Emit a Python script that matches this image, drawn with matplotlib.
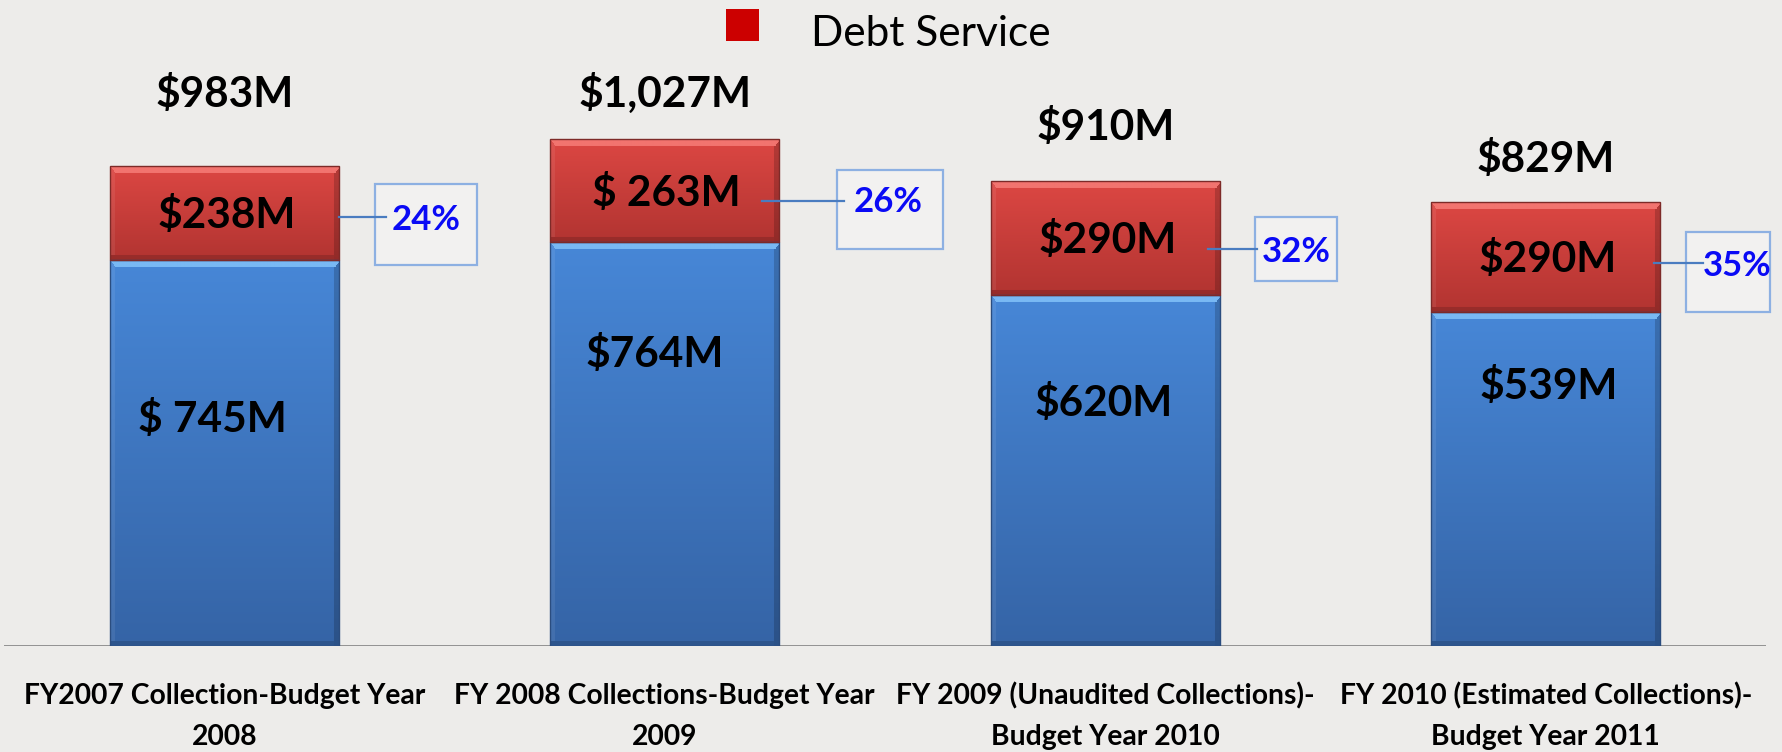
import numpy as np
import matplotlib
matplotlib.use("Agg")
import matplotlib.pyplot as plt
from matplotlib.patches import Rectangle
from matplotlib.transforms import IdentityTransform
from matplotlib.colors import to_rgb

# ---------------- data ----------------
categories = [
    "FY2007 Collection-Budget Year\n2008",
    "FY 2008 Collections-Budget Year\n2009",
    "FY 2009 (Unaudited Collections)-\nBudget Year 2010",
    "FY 2010 (Estimated Collections)-\nBudget Year 2011",
]
# values as printed on the chart ($M)
other_values_m = [745, 764, 620, 539]
debt_values_m = [238, 263, 290, 290]
total_values_m = [983, 1027, 910, 829]
other_label_text = ["$ 745M", "$764M", "$620M", "$539M"]
debt_label_text = ["$238M", "$ 263M", "$290M", "$290M"]
# segment heights as they are drawn in the picture (chart units)
other_drawn = [772, 808, 702, 668]
debt_drawn = [188, 206, 228, 220]
legend_label = "Debt Service"

# ---------------- layout / style ----------------
W, H, DPI = 1783, 752, 100
FONT = ["Lato", "DejaVu Sans"]
BG = "#edecea"
RED = dict(top="#dc4743", bottom="#b23431", edge="#7d2a28", hi="#f2746f")
BLUE = dict(top="#4787d7", bottom="#3564a6", edge="#2b4d7f", hi="#79b9f4")
BAR_W = 0.52
total_gap_px = [59, 32, 41, 30]          # bar top -> total label baseline
other_depth_px = [172, 125, 121, 87]     # blue top -> blue label baseline
other_dx_px = [-12, -10, -2, 3]          # horizontal nudge of blue labels
pct_text_dx = [87, 109, 77, 77]          # from bar right edge
pct_text_dy = [17, 22, 24, 19]           # baseline below red centre
pct_box = [(36, 138, -29, 52), (58, 164, -21, 58), (35, 117, -21, 43), (26, 110, -25, 55)]
pct_line = [(0, 47, 4), (-17, 65, 10), (-12, 37, 11), (-6, 43, 6)]  # x0,x1 from bar edge, dy

fig = plt.figure(figsize=(W / DPI, H / DPI), dpi=DPI, facecolor=BG)
ax = fig.add_axes([4 / W, (H - 646) / H, 1762 / W, 646 / H])
ax.set_facecolor("none")
n = len(categories)
x = np.arange(n)
ax.set_xlim(-0.5, n - 0.5)
ax.set_ylim(0, 1292)
for s in ax.spines.values():
    s.set_visible(False)
ax.set_yticks([])
ax.set_xticks([])


def segment(xc, y0, h, pal):
    x0, x1 = xc - BAR_W / 2, xc + BAR_W / 2
    (dx0, dy0) = ax.transData.transform((x0, y0))
    (dx1, dy1) = ax.transData.transform((x1, y0 + h))
    hp, wp = max(int(round(dy1 - dy0)), 2), max(int(round(dx1 - dx0)), 2)
    t = np.linspace(0, 1, hp)[:, None, None]
    top, bot = np.array(to_rgb(pal["top"])), np.array(to_rgb(pal["bottom"]))
    img = np.repeat(top * (1 - t) + bot * t, wp, axis=1)
    rows = np.arange(hp)[:, None]
    cols = np.arange(wp)[None, :]
    hi = np.array(to_rgb(pal["hi"]))
    band = 7
    mtop = (rows < band) & (cols >= rows * 0.8) & (cols < wp - rows * 0.8)
    img[mtop] = hi
    mright = (cols >= wp - 6) & ~mtop
    img[mright] = img[mright] * 0.82
    mbot = (rows >= hp - 5) & ~mright
    img[mbot] = img[mbot] * 0.85
    mleft = (cols < 5) & ~mtop & ~mbot
    img[mleft] = img[mleft] * 0.93 + 0.07
    ax.imshow(img, extent=(x0, x1, y0, y0 + h), aspect="auto", origin="upper",
              interpolation="bilinear", zorder=2)
    ax.add_patch(Rectangle((x0, y0), BAR_W, h, fill=False, edgecolor=pal["edge"],
                           lw=1.0, zorder=3))


ax.axhline(0, color="#8a8a8a", lw=2.0, zorder=1)
for i in range(n):
    segment(x[i], 0, other_drawn[i], BLUE)
    segment(x[i], other_drawn[i], debt_drawn[i], RED)
ax.set_xlim(-0.5, n - 0.5)
ax.set_ylim(0, 1292)

bold = dict(family=FONT, weight="bold", color="black")
for i in range(n):
    total_top = other_drawn[i] + debt_drawn[i]
    red_mid = other_drawn[i] + debt_drawn[i] / 2
    ax.annotate(f"${total_values_m[i]:,}M", (x[i], total_top), xytext=(0, total_gap_px[i]),
                textcoords="offset pixels", ha="center", va="baseline", fontsize=30.5, **bold)
    ax.annotate(debt_label_text[i], (x[i], red_mid), xytext=(2, -15),
                textcoords="offset pixels", ha="center", va="baseline", fontsize=30.5, zorder=5, **bold)
    ax.annotate(other_label_text[i], (x[i], other_drawn[i]), xytext=(other_dx_px[i], -other_depth_px[i]),
                textcoords="offset pixels", ha="center", va="baseline", fontsize=30.5, zorder=5, **bold)

    # percentage call-out
    pct = round(100 * debt_values_m[i] / total_values_m[i])
    ex, ey = ax.transData.transform((x[i] + BAR_W / 2, red_mid))
    l, r, tt, bb = pct_box[i]
    fig.add_artist(Rectangle((ex + l, ey - bb), r - l, bb - tt, transform=IdentityTransform(),
                             facecolor=(1, 1, 1, 0.3), edgecolor="#8db0e2", lw=1.6, zorder=4))
    lx0, lx1, ldy = pct_line[i]
    fig.add_artist(plt.Line2D([ex + lx0, ex + lx1], [ey - ldy, ey - ldy], transform=IdentityTransform(),
                              color="#4a7cc0", lw=1.6, zorder=6))
    fig.text((ex + pct_text_dx[i]) / W, (ey - pct_text_dy[i]) / H, f"{pct}%", ha="center",
             va="baseline", fontsize=25, family=FONT, weight="bold", color="#0a0af5", zorder=7)

# category labels (two lines each)
for i, cat in enumerate(categories):
    lines = cat.split("\n")
    for j, line in enumerate(lines):
        ybase = 704 + 41 * j
        ax.text(x[i], (646 - ybase) / 646, line, transform=ax.get_xaxis_transform(),
                ha="center", va="baseline", fontsize=20.3, **bold)

# legend
fig.add_artist(Rectangle((726 / W, 1 - 41 / H), 33 / W, 32 / H, transform=fig.transFigure,
                         facecolor="#cc0000", edgecolor="none"))
fig.text(811 / W, 1 - 46.5 / H, legend_label, ha="left", va="baseline", fontsize=30.5,
         family=FONT, color="black")

fig.savefig("out.png", dpi=DPI, facecolor=BG)
